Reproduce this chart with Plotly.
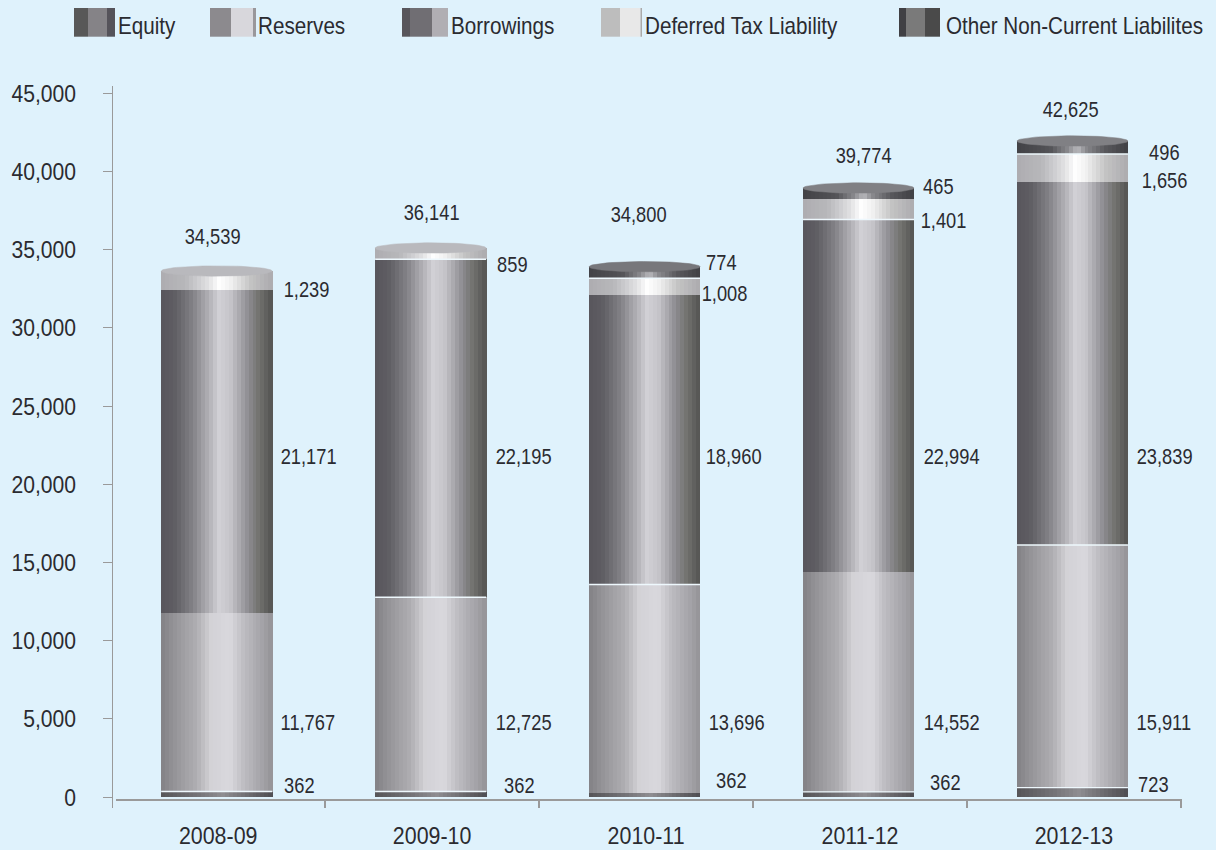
import numpy as np
import plotly.graph_objects as go

years = ["2008-09", "2009-10", "2010-11", "2011-12", "2012-13"]

# Drawn heights
equity = [360, 360, 290, 340, 610]
reserves = [11414, 12418, 13306, 14055, 15511]
borrowings = [20647, 21606, 18506, 22533, 23223]
deferred = [1215, 722, 1073, 1310, 1771]
other = [0, 0, 736, 703, 831]

# Values as printed on the chart
label_total = ["34,539", "36,141", "34,800", "39,774", "42,625"]
label_other = ["", "", "774", "465", "496"]
label_deferred = ["1,239", "859", "1,008", "1,401", "1,656"]
label_borrowings = ["21,171", "22,195", "18,960", "22,994", "23,839"]
label_reserves = ["11,767", "12,725", "13,696", "14,552", "15,911"]
label_equity = ["362", "362", "362", "362", "723"]

names = ["Equity", "Reserves", "Borrowings", "Deferred Tax Liability", "Other Non-Current Liabilites"]

W, H = 1216, 850
L, R, T, B = 112, 1182, 86, 808
Y0, KY = 797.2, 0.015644      # pixel of value 0, pixels per unit
FONT = "Liberation Sans"
TXT = "#2b2b30"
BG = "#dff2fc"
AXC = "#9a9a9a"

px = lambda x: (x - L) / (R - L)
py = lambda y: (B - y) / (B - T)

gradients = [
    [(0, "#565558"), (.35, "#77767a"), (.55, "#8f8e92"), (.8, "#6a696d"), (1, "#4f4e53")],
    [(0, "#838286"), (.15, "#99989c"), (.32, "#b0afb3"), (.45, "#d4d3d8"), (.62, "#d9d8dd"),
     (.75, "#bcbbc0"), (.92, "#a3a2a7"), (1, "#949397")],
    [(0, "#58565c"), (.12, "#5f5e63"), (.28, "#828186"), (.42, "#b0afb4"), (.52, "#d2d1d6"),
     (.62, "#c6c5ca"), (.78, "#8e8d92"), (.88, "#737370"), (1, "#545452")],
    [(0, "#aeadb1"), (.22, "#b8b8bb"), (.42, "#e0e0e2"), (.52, "#ffffff"), (.62, "#f2f2f2"),
     (.8, "#c4c4c4"), (1, "#acabaf")],
    [(0, "#424246"), (.3, "#545458"), (.45, "#88888c"), (.54, "#b8b8bc"), (.62, "#8a8a8e"),
     (.8, "#58585c"), (1, "#404044")],
]
cap_colors = ["#b9b9bd", "#b9b9bd", "#77777b", "#808084", "#808084"]

N_STRIPS = 28
BAR_W = 111 / 214
SHIFT = -1.5 / 214


def hex2rgb(h):
    return [int(h[i:i + 2], 16) for i in (1, 3, 5)]


def strip_colors(stops):
    pos = [s[0] for s in stops]
    rgb = np.array([hex2rgb(s[1]) for s in stops], float)
    t = (np.arange(N_STRIPS) + .5) / N_STRIPS
    return ["rgb(%d,%d,%d)" % tuple(np.interp(v, pos, rgb[:, c]) for c in range(3)) for v in t]


series = [equity, reserves, borrowings, deferred, other]
fig = go.Figure()

base = np.zeros(5)
tops = []
for s, vals in enumerate(series):
    cols = strip_colors(gradients[s])
    xs, ys, bs, cs = [], [], [], []
    for i, v in enumerate(vals):
        if v <= 0:
            continue
        for k in range(N_STRIPS):
            xs.append(i + SHIFT - BAR_W / 2 + (k + .5) * BAR_W / N_STRIPS)
            ys.append(v)
            bs.append(base[i])
            cs.append(cols[k])
    fig.add_trace(go.Bar(x=xs, y=ys, base=bs, width=BAR_W / N_STRIPS * 1.06, name=names[s],
                         marker=dict(color=cs, line=dict(width=0)), showlegend=False,
                         hoverinfo="skip"))
    base = base + np.array(vals, float)
    tops.append(base.copy())

# thin pale separators between stacked segments: [boundary above series s] per year
separators = [
    [True, True, False, True, True],
    [False, True, True, False, True],
    [False, True, False, True, False],
    [False, False, True, False, True],
]
for s, flags in enumerate(separators):
    for i, on in enumerate(flags):
        if on:
            fig.add_trace(go.Scatter(
                x=[i + SHIFT - BAR_W / 2, i + SHIFT + BAR_W / 2], y=[tops[s][i]] * 2, mode="lines",
                line=dict(color="#eef8fd", width=1.4), showlegend=False, hoverinfo="skip"))

# cylinder caps
theta = np.linspace(0, 2 * np.pi, 80)
for i in range(5):
    top = tops[4][i]
    fig.add_trace(go.Scatter(
        x=i + SHIFT + BAR_W / 2 * np.cos(theta),
        y=top + 5.2 / KY * np.sin(theta),
        mode="lines", fill="toself", fillcolor=cap_colors[i],
        line=dict(color=cap_colors[i], width=0.5), showlegend=False, hoverinfo="skip"))

# printed labels: (text list, x centres, y centres in page pixels)
label_layout = [
    (label_total, [212, 431, 638, 863, 1070], [236, 212, 214, 155, 109]),
    (label_other, [0, 0, 721, 938, 1164], [0, 0, 262, 186, 152]),
    (label_deferred, [306, 512, 724, 943, 1164], [289, 264, 293, 220, 180]),
    (label_borrowings, [308, 523, 733, 951, 1164], [456] * 5),
    (label_reserves, [308, 523, 736, 951, 1164], [722] * 5),
    (label_equity, [299, 519, 731, 945, 1153], [785, 785, 780, 782, 784]),
]
ann = []
for texts, xs, ys in label_layout:
    for t, x, y in zip(texts, xs, ys):
        if t:
            ann.append(dict(text=t, x=px(x), y=py(y), xref="paper", yref="paper", showarrow=False,
                            xanchor="center", yanchor="middle",
                            font=dict(family=FONT, size=22, color=TXT)))

# legend
swatches = [
    ([74, 88, 107, 115], ["#585858", "#858387", "#55535a"], 116),
    ([210, 231, 253, 256], ["#8c8a8e", "#d8d7dc", "#99979b"], 256),
    ([402, 410, 432, 448], ["#58565c", "#706e73", "#b0aeb3"], 449),
    ([601, 620, 640.5, 642], ["#bdbdbd", "#e8e8e8", "#aaaaaa"], 643),
    ([899, 906, 925, 940], ["#404044", "#7a7a7a", "#4a4a4a"], 944),
]
shapes = []
for (edges, cols, tx), name in zip(swatches, names):
    for a, b, c in zip(edges[:-1], edges[1:], cols):
        shapes.append(dict(type="rect", xref="paper", yref="paper", x0=px(a), x1=px(b),
                           y0=py(8), y1=py(36.7), fillcolor=c, line=dict(width=0)))
    ann.append(dict(text=name, x=px(tx), y=py(26), xref="paper", yref="paper", showarrow=False,
                    xanchor="left", align="left", yanchor="middle",
                    font=dict(family=FONT, size=24, color=TXT)))

y_ticks = list(range(0, 45001, 5000))
fig.update_layout(
    width=W, height=H, margin=dict(l=L, r=W - R, t=T, b=H - B, pad=0, autoexpand=False),
    paper_bgcolor=BG, plot_bgcolor=BG, barmode="overlay", bargap=0, showlegend=False,
    shapes=shapes, annotations=ann,
    xaxis=dict(domain=[px(115.7), 1], range=[-0.479, 4.505], anchor="free", automargin=False,
               position=(B - 800.3) / (B - T), tickmode="array",
               tickvals=list(range(5)), ticktext=years, ticks="", ticklen=0,
               ticklabelstandoff=15, showgrid=False, zeroline=False, showline=True,
               linecolor=AXC, linewidth=1.5, tickfont=dict(family=FONT, size=23, color=TXT),
               minor=dict(tickmode="array", tickvals=[.5, 1.5, 2.5, 3.5, 4.5], ticks="outside",
                          ticklen=7, tickwidth=1.5, tickcolor=AXC, showgrid=False)),
    yaxis=dict(range=[(Y0 - B) / KY, (Y0 - T) / KY], anchor="free", position=0, automargin=False,
               tickmode="array", tickvals=y_ticks, ticktext=[f"{v:,}" for v in y_ticks],
               ticks="outside", ticklen=9, tickwidth=1.2, tickcolor=AXC, ticklabelstandoff=22,
               showgrid=False, zeroline=False, showline=True, linecolor=AXC, linewidth=1.2,
               tickfont=dict(family=FONT, size=24, color=TXT)),
)

# The reference uses a condensed face; none is installed, so narrow the real text glyphs.
narrow = """
document.body.style.margin = '0';
document.body.style.background = '%s';
function narrowText() {
  document.querySelectorAll('svg text').forEach(function (el) {
    if (el.getAttribute('textLength')) return;
    var fs = parseFloat(window.getComputedStyle(el).fontSize);
    var r = fs >= 24 ? 0.86 : 0.83;
    if (el.closest('.xtick')) r = 0.93;
    if (el.closest('.ytick')) r = 0.88;
    var len = el.getComputedTextLength();
    if (len > 0) {
      el.setAttribute('textLength', len * r);
      el.setAttribute('lengthAdjust', 'spacingAndGlyphs');
    }
  });
}
narrowText();
setTimeout(narrowText, 50);
""" % BG
fig.write_html("out.html", post_script=narrow, config={"displayModeBar": False})
